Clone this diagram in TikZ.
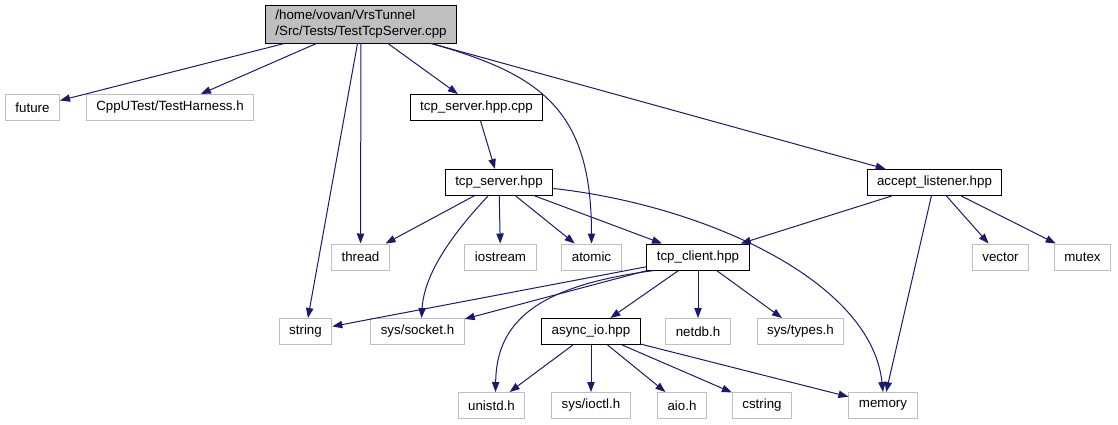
\documentclass[tikz,border=0pt]{standalone}
\usepackage{fontspec}
\setmainfont{Liberation Sans}
\usetikzlibrary{arrows.meta,calc}
\definecolor{xanhdam}{HTML}{191970}
\definecolor{xam}{HTML}{BFBFBF}
\begin{document}
\begin{tikzpicture}[x=0.75pt,y=-0.75pt,font=\fontsize{10}{12}\selectfont]
			\useasboundingbox (0,0)rectangle(1118,425);
			\tikzset{Hop/.style={line width=0.75pt,inner xsep=7.5pt,inner ysep=0pt,minimum height=19.5pt}}
			\tikzset{Hop-den/.style={Hop,draw=black}}
			\tikzset{Hop-xam/.style={Hop,draw=xam}}
			\tikzset{Mui-ten/.style={draw=xanhdam,line width=0.75pt,-{Triangle[length=7.5pt,width=5.5pt]}}}
			\node[Hop-den,fill=xam,align=left,minimum height=28.5pt] (root) at (361,24) {/home/vovan/VrsTunnel\\/Src/Tests/TestTcpServer.cpp};
			\foreach \ten/\x/\y/\chu in {tcpsrvcpp/476.5/107.5/tcp\_server.hpp.cpp,tcpsrv/499/182.5/tcp\_server.hpp,accept/934.5/182.5/accept\_listener.hpp,tcpcli/698/257/tcp\_client.hpp,asyncio/591/331.5/async\_io.hpp}
			\node[Hop-den] (\ten) at (\x,\y) {\chu};
			\foreach \ten/\x/\y/\chu in {future/32.5/107.5/future,cpputest/170/107.5/{CppUTest/TestHarness.h},thread/360.5/257/thread,iostream/500.5/257/iostream,atomic/591.5/257/atomic,vector/1000.5/257/vector,mutex/1082.5/257/mutex,string/305.5/331.5/string,socket/417.5/331.5/{sys/socket.h},netdb/698/331.5/netdb.h,types/800.5/331.5/{sys/types.h},unistd/491.5/405.5/unistd.h,ioctl/591/405.5/{sys/ioctl.h},aio/682/405.5/aio.h,cstring/762/405.5/cstring,memory/883/405.5/memory}
			\node[Hop-xam] (\ten) at (\x,\y) {\chu};
			\foreach \a/\b in {root/future,root/cpputest,root/tcpsrvcpp,root/accept,root/string,root/thread,tcpsrvcpp/tcpsrv,tcpsrv/thread,tcpsrv/iostream,tcpsrv/atomic,tcpsrv/tcpcli,accept/tcpcli,accept/memory,accept/vector,accept/mutex,tcpcli/string,tcpcli/socket,tcpcli/asyncio,tcpcli/netdb,tcpcli/types,asyncio/unistd,asyncio/ioctl,asyncio/aio,asyncio/cstring,asyncio/memory}
			\draw[Mui-ten](\a)--(\b);
			\draw[Mui-ten]($(root.south east)+(-26,0)$)..controls+(110,31)and+(0,-134)..(atomic.north);
			\draw[Mui-ten]($(tcpsrv.south)+(-11,0)$)..controls+(-28,30)and+(3,-49)..($(socket.north)+(4,0)$);
			\draw[Mui-ten]($(tcpsrv.east)+(0,6)$)..controls+(147,16)and+(-12,-113)..(memory.north);
			\draw[Mui-ten]($(tcpcli.south west)+(8,0)$)..controls+(-115,15)and+(1,-72)..($(unistd.north)+(4,0)$);
		\end{tikzpicture}
\end{document}
